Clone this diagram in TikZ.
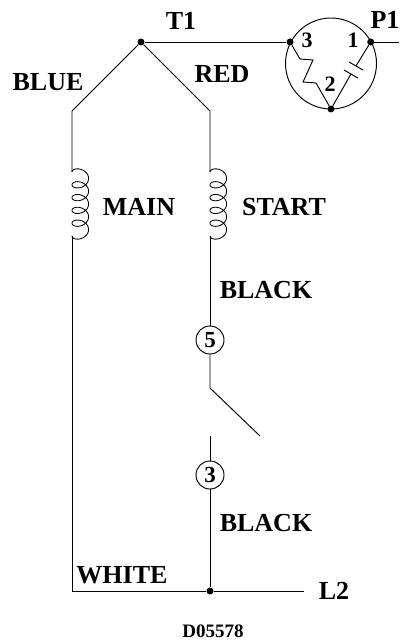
\documentclass[tikz,border=0pt]{standalone}
\usepackage{fontspec}
\setmainfont{Liberation Serif}
\tikzset{
  wire/.style={draw,line width=0.95pt},
  junction/.style={circle,fill=black,inner sep=0pt,minimum size=7pt},
  terminal/.style={draw,circle,line width=0.95pt,fill=white,inner sep=0pt,minimum size=28pt,font=\bfseries\fontsize{23}{23}\selectfont},
  lbl/.style={inner sep=0pt,font=\bfseries\fontsize{26}{26}\selectfont},
  pin/.style={inner sep=0pt,font=\bfseries\fontsize{22}{22}\selectfont}
}
\newcommand{\coilplot}[2]{\draw[line width=0.85pt,line join=round] plot[smooth,samples=160,domain=0:1800,variable=\t]
  ({#1+8.3*(1-cos(\t))},{#2+0.035556*\t-6*sin(\t)});}
\begin{document}
\begin{tikzpicture}[x=1pt,y=-1pt]
\useasboundingbox (0,0) rectangle (407,644);

\node[junction] (top) at (141,42) {};
\coordinate (leftbend) at (72,111);
\coordinate (rightbend) at (210,111);
\coordinate (maintop) at (72,172);
\coordinate (mainbot) at (72,236);
\coordinate (starttop) at (210,172);
\coordinate (startbot) at (210,236);
\coordinate (corner) at (72,591);
\node[junction] (bottom) at (210,591) {};
\coordinate (l2end) at (304,591);

\path[wire] (top) -- (leftbend) -- (maintop);
\path[wire] (top) -- (rightbend) -- (starttop);
\coilplot{72}{172}
\coilplot{210}{172}
\path[wire] (mainbot) -- (corner) -- (bottom) -- (l2end);

% switch branch
\node[terminal] (s5) at (210,340) {5};
\node[terminal] (s3) at (210,475) {3};
\coordinate (hinge) at (210,388);
\coordinate (blade) at (260,436);
\coordinate (contact) at (210,436);
\path[wire] (startbot) -- (s5);
\path[wire] (s5) -- (hinge) -- (blade);
\path[wire] (contact) -- (s3);
\path[wire] (s3) -- (bottom);

% relay
\node[draw,circle,line width=0.95pt,inner sep=0pt,minimum size=91pt] (relay) at (331,63.5) {};
\node[junction] (p3) at (290,42) {};
\node[junction] (p1) at (370.7,42) {};
\node[junction] (p2) at (331,109) {};
\coordinate (p1end) at (399,42);
\path[wire] (top) -- (p3);
\path[wire] (p1) -- (p1end);
\path[wire,line join=miter] (p3) -- (300,59) -- (313,60) -- (303,82) -- (316,83) -- (p2);
\coordinate (capa) at (356,66);
\coordinate (capb) at (351,74);
\path[wire] (p1) -- (capa);
\path[wire] (capb) -- (p2);
\path[wire] (349,62) -- (363,70);
\path[wire] (344,70) -- (358,78);

\node[pin] (n3) at (307,40) {3};
\node[pin] (n1) at (353,40) {1};
\node[pin] (n2) at (330,84) {2};

\node[lbl] (t1) at (181,21) {T1};
\node[lbl] (p1lbl) at (385,20) {P1};
\node[lbl] (blue) at (48,82) {BLUE};
\node[lbl] (red) at (222,74) {RED};
\node[lbl] (main) at (139,207) {MAIN};
\node[lbl] (start) at (284,207) {START};
\node[lbl] (black1) at (266,290) {BLACK};
\node[lbl] (black2) at (266,523) {BLACK};
\node[lbl] (white) at (122,575) {WHITE};
\node[lbl] (l2) at (334,591) {L2};
\node[inner sep=0pt,font=\bfseries\fontsize{19}{19}\selectfont] (code) at (213,631) {D05578};
\end{tikzpicture}
\end{document}
